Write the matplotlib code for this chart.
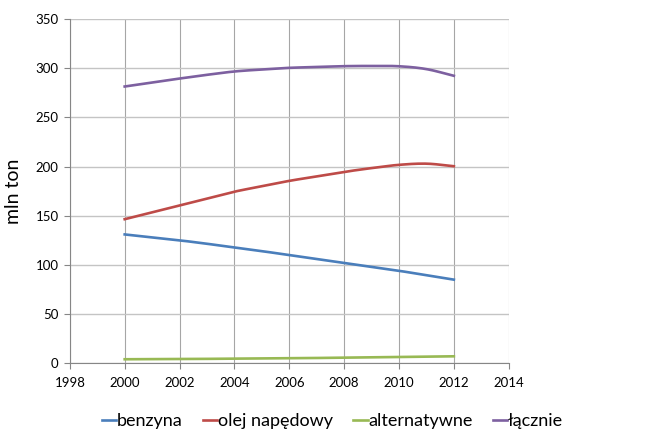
import matplotlib
matplotlib.use('Agg')
import matplotlib.pyplot as plt
import numpy as np

plt.rcParams['font.family'] = ['Lato', 'DejaVu Sans']

years = [2000, 2001, 2002, 2003, 2004, 2005, 2006, 2007, 2008, 2009, 2010, 2011, 2012]
benzyna = [131, 128, 125, 121.5, 117.7, 114, 110, 106, 102, 98, 94, 89.5, 85]
olej = [146.5, 153.5, 160.4, 167.5, 174.5, 180, 185.5, 190, 194.6, 198.5, 201.8, 203, 200.4]
alternatywne = [4, 4.1, 4.2, 4.4, 4.6, 4.8, 5, 5.3, 5.6, 5.9, 6.3, 6.7, 7]
lacznie = [281.5, 285.6, 289.6, 293.4, 296.8, 298.8, 300.5, 301.3, 302.2, 302.4, 302.1, 299.2, 292.4]

labels = ['benzyna', 'olej napędowy', 'alternatywne', 'łącznie']
colors = ['#4A7EBB', '#BE4B48', '#98B954', '#7D60A0']


def smooth(x, y, n=20):
    # Catmull-Rom curve through the points, like a smoothed line in a spreadsheet
    x = np.asarray(x, float)
    y = np.asarray(y, float)
    px = np.concatenate([[2 * x[0] - x[1]], x, [2 * x[-1] - x[-2]]])
    py = np.concatenate([[2 * y[0] - y[1]], y, [2 * y[-1] - y[-2]]])
    t = np.linspace(0, 1, n, endpoint=False)
    xs, ys = [], []
    for i in range(1, len(px) - 2):
        for p, out in ((px, xs), (py, ys)):
            p0, p1, p2, p3 = p[i - 1], p[i], p[i + 1], p[i + 2]
            out.extend(0.5 * (2 * p1 + (-p0 + p2) * t
                              + (2 * p0 - 5 * p1 + 4 * p2 - p3) * t ** 2
                              + (-p0 + 3 * p1 - 3 * p2 + p3) * t ** 3))
    xs.append(x[-1])
    ys.append(y[-1])
    return xs, ys


fig = plt.figure(figsize=(6.65, 4.36), dpi=100)
ax = fig.add_axes([0.105, 0.167, 0.66, 0.789])

for series, label, color in zip([benzyna, olej, alternatywne, lacznie], labels, colors):
    sx, sy = smooth(years, series)
    ax.plot(sx, sy, color=color, linewidth=1.9, label=label)

ax.set_xlim(1998, 2014)
ax.set_ylim(0, 350)
ax.set_xticks(range(1998, 2015, 2))
ax.set_yticks(range(0, 351, 50))
ax.grid(True, axis='y', color='#C4C4C4', linewidth=1.0)
ax.grid(True, axis='x', color='#A6A6A6', linewidth=0.8)
ax.set_axisbelow(True)
for side in ['top', 'right']:
    ax.spines[side].set_visible(False)
for side in ['left', 'bottom']:
    ax.spines[side].set_color('#868686')
ax.tick_params(axis='both', length=4, width=0.8, color='#868686', labelsize=9.5)
ax.tick_params(axis='x', pad=6)
ax.tick_params(axis='y', pad=4)
ax.set_ylabel('mln ton', fontsize=14, labelpad=10)

ax.legend(loc='upper center', bbox_to_anchor=(0.5, 0.09), bbox_transform=fig.transFigure,
          ncol=4, frameon=False, fontsize=13, handlelength=0.8, handletextpad=0.05,
          columnspacing=1.1)

fig.savefig('out.png', dpi=100)
